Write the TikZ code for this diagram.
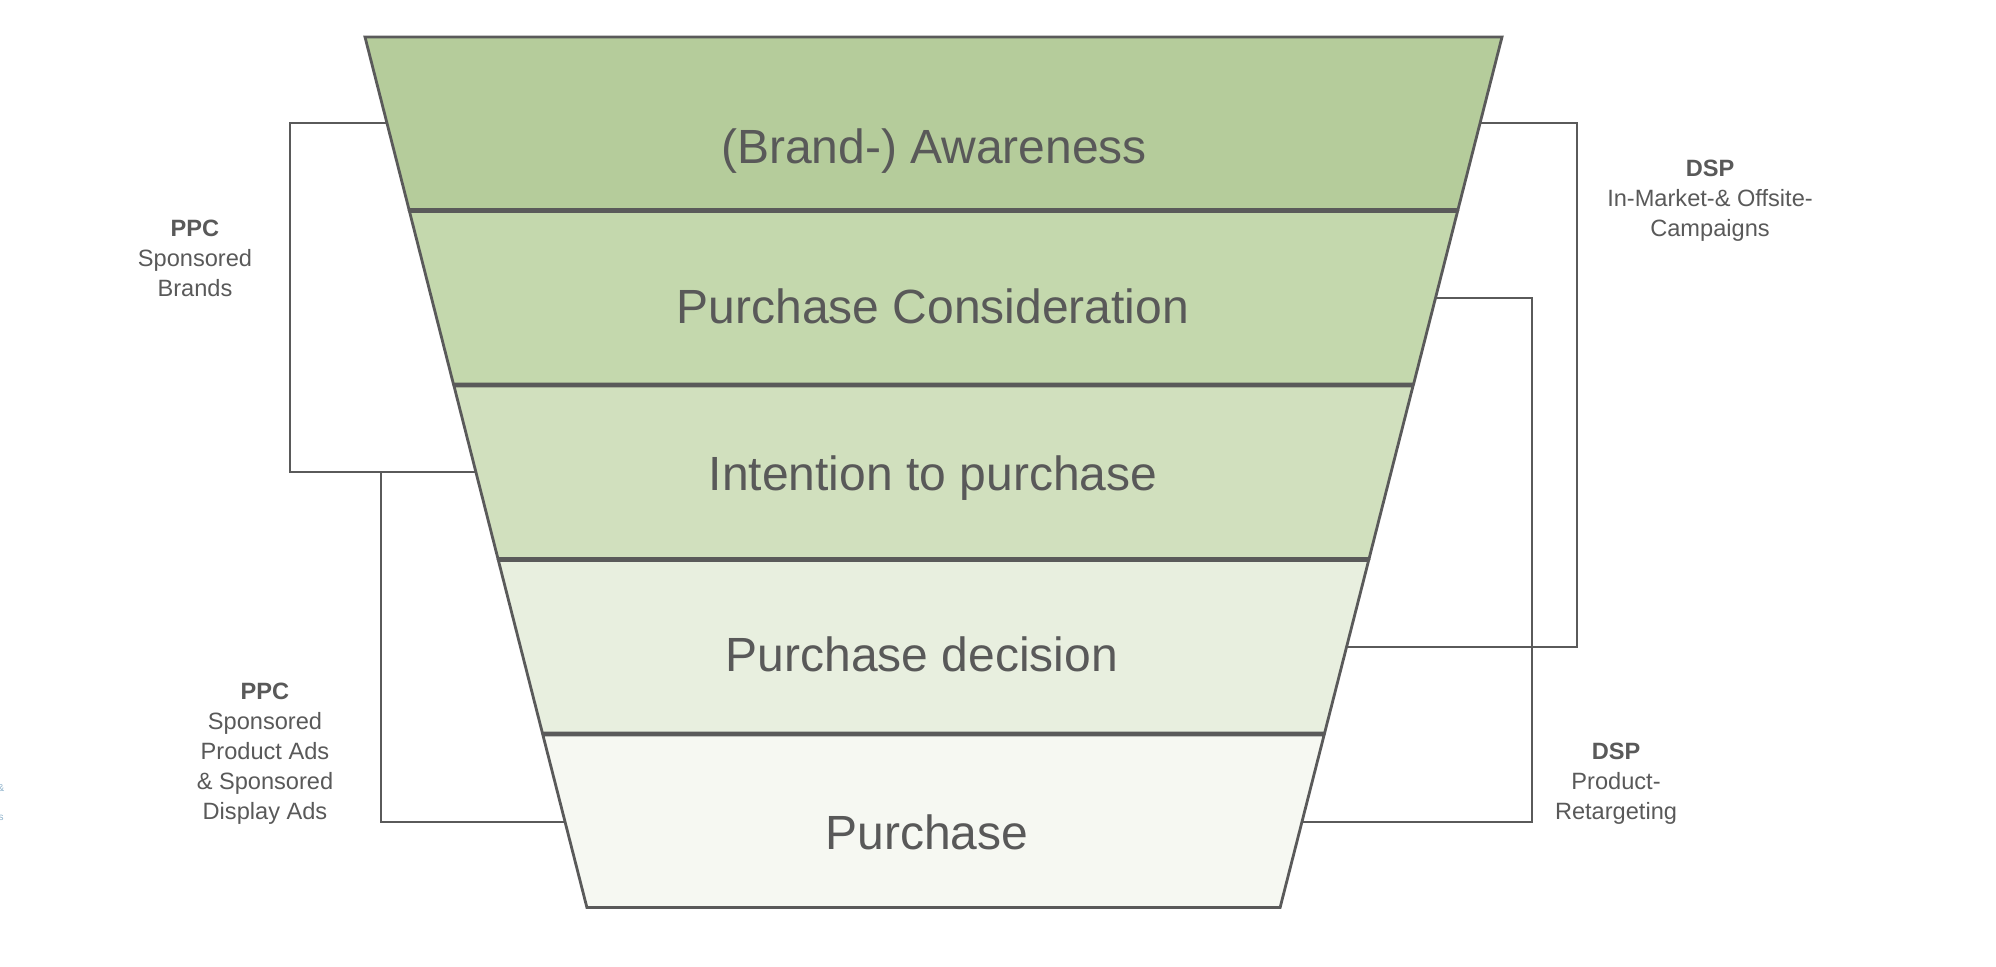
\documentclass[tikz,border=0pt]{standalone}
\usepackage{fontspec}
\setmainfont{Liberation Sans}
\definecolor{edge}{HTML}{5A5A5A}
\definecolor{txt}{HTML}{595959}
\definecolor{fa}{HTML}{B5CC9B}
\definecolor{fb}{HTML}{C4D8AD}
\definecolor{fc}{HTML}{D1E0BE}
\definecolor{fd}{HTML}{E8EFDF}
\definecolor{fe}{HTML}{F6F8F2}
\definecolor{ghost}{HTML}{8FB3CC}
\tikzset{
  layer/.style={draw=edge, line width=1.4pt, line join=miter},
  conn/.style={draw=edge, line width=1.45pt},
  big/.style={text=txt, anchor=base, font=\fontsize{24}{29}\selectfont},
  lab/.style={text=txt, align=center, font=\fontsize{11.8}{15}\selectfont, inner sep=0pt},
}
\begin{document}
\begin{tikzpicture}[x=0.5pt, y=-0.5pt]
\useasboundingbox (0,0) rectangle (1996,966);
% attachment coordinates
\coordinate (L1w) at (387,123);
\coordinate (L3w) at (476,472);
\coordinate (L5w) at (565,822);
\coordinate (R1e) at (1480,123);
\coordinate (R2e) at (1435.5,298);
\coordinate (R4e) at (1346.5,647);
\coordinate (R5e) at (1302,822);
\coordinate (a2) at (290,472);
\coordinate (j1) at (381,472);
\coordinate (b2) at (1577,647);
\coordinate (c2) at (1532,822);
% connectors
\draw[conn] (L1w) -| (a2) -- (L3w);
\draw[conn] (j1) |- (L5w);
\draw[conn] (R1e) -| (b2) -- (R4e);
\draw[conn] (R2e) -| (c2) -- (R5e);
% funnel layers
\filldraw[layer, fill=fa] (365,37) -- (1502,37) -- (1458,209.5) -- (409,209.5) -- cycle;
\filldraw[layer, fill=fb] (409.5,211.5) -- (1457.5,211.5) -- (1413.6,384) -- (453.4,384) -- cycle;
\filldraw[layer, fill=fc] (454,386) -- (1413,386) -- (1369.1,558.5) -- (497.9,558.5) -- cycle;
\filldraw[layer, fill=fd] (498.4,560.5) -- (1368.6,560.5) -- (1324.6,733) -- (542.4,733) -- cycle;
\filldraw[layer, fill=fe] (542.9,735) -- (1324.1,735) -- (1280.1,907.5) -- (586.9,907.5) -- cycle;
% layer texts
\node[big] (t1) at (934,163) {(Brand-) Awareness};
\node[big] (t2) at (933,323) {Purchase Consideration};
\node[big] (t3) at (933,490) {Intention to purchase};
\node[big] (t4) at (922,671) {Purchase decision};
\node[big] (t5) at (927,849) {Purchase};
% side labels
\node[lab] (ppc1) at (195,258) {\textbf{PPC}\\Sponsored\\Brands};
\node[lab] (ppc2) at (265,754) {\textbf{PPC}\\Sponsored\\Product Ads\\\& Sponsored\\Display Ads};
\node[lab] (dsp1) at (1710,201) {\textbf{DSP}\\In-Market-\& Offsite-\\Campaigns};
\node[lab] (dsp2) at (1616,784) {\textbf{DSP}\\Product-\\Retargeting};
% faint cut-off remnants at left edge
\node[text=ghost, font=\fontsize{5}{6}\selectfont, inner sep=0pt] (g1) at (1,788) {\&};
\node[text=ghost, font=\fontsize{5}{6}\selectfont, inner sep=0pt] (g2) at (1,818) {s};
\end{tikzpicture}
\end{document}
